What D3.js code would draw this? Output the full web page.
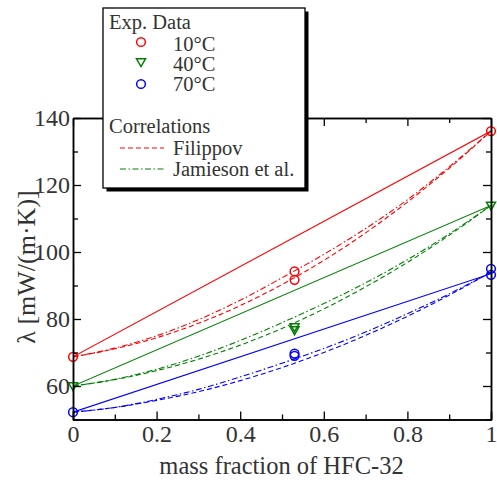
<!DOCTYPE html>
<html>
<head>
<meta charset="utf-8">
<script src="https://cdn.jsdelivr.net/npm/d3@7"></script>
<style>
  body { margin: 0; background: #fff; }
  svg { display: block; }
  svg text { font-family: "Liberation Serif", "DejaVu Serif", "Times New Roman", Times, serif !important; fill: #333; }
</style>
</head>
<body>
<svg id="chart" width="497" height="481"></svg>
<script>
// ---------- data ----------
const massFraction = [0, 0.1, 0.2, 0.3, 0.4, 0.5, 0.6, 0.7, 0.8, 0.9, 1];

// experimental points [mass fraction, lambda]
const exp10 = [[0, 68.7], [0.53, 94.2], [0.53, 91.7], [1, 136.1]];
const exp40 = [[0, 60.0], [0.53, 77.6], [0.53, 76.7], [1, 113.9]];
const exp70 = [[0, 52.2], [0.53, 69.7], [0.53, 69.0], [1, 95.0], [1, 93.2]];

// linear mixing (solid)
const linX = [0, 1];
const lin10 = [68.7, 136.1];
const lin40 = [60.0, 113.9];
const lin70 = [52.2, 93.5];

// Filippov correlation (dashed)
const fil10 = [68.7, 71.1, 74.4, 78.7, 84.0, 90.3, 97.5, 105.7, 114.9, 125.0, 136.1];
const fil40 = [60.0, 61.9, 64.6, 68.0, 72.2, 77.2, 83.0, 89.6, 96.9, 105.0, 113.9];
const fil70 = [52.2, 53.6, 55.7, 58.3, 61.6, 65.5, 70.0, 75.1, 80.8, 87.1, 94.0];

// Jamieson et al. correlation (dash-dot)
const jam10 = [68.7, 71.3, 75.0, 79.8, 85.6, 92.3, 99.3, 107.0, 115.6, 125.4, 136.1];
const jam40 = [60.0, 62.0, 65.0, 68.9, 73.6, 78.9, 84.6, 90.8, 97.7, 105.4, 113.9];
const jam70 = [52.2, 53.6, 56.0, 59.0, 62.7, 66.8, 71.2, 76.1, 81.6, 87.5, 94.0];

const xTicks = [0, 0.2, 0.4, 0.6, 0.8, 1];
const xMinor = [0.1, 0.3, 0.5, 0.7, 0.9];
const yTicks = [60, 80, 100, 120, 140];
const yMinor = [50, 70, 90, 110, 130];

const seriesNames = ["10°C", "40°C", "70°C"];
const colors = ["#ff0000", "#008000", "#0000ff"];

// ---------- layout ----------
const FONT = '"Liberation Serif", "DejaVu Serif", "Times New Roman", Times, serif';
const svg = d3.select("#chart");
const L = 73, R = 491, T = 118, B = 419.5;
const x = d3.scaleLinear().domain([0, 1]).range([L, R]);
const y = d3.scaleLinear().domain([50, 140]).range([B, T]);

const plot = svg.append("g");
svg.append("clipPath").attr("id", "clip")
  .append("rect").attr("x", L).attr("y", T).attr("width", R - L).attr("height", B - T);

const line = d3.line().x(d => x(d[0])).y(d => y(d[1]));
const zip = (xs, ys) => xs.map((v, i) => [v, ys[i]]);

const solid = [lin10, lin40, lin70];
const fil = [fil10, fil40, fil70];
const jam = [jam10, jam40, jam70];
const exps = [exp10, exp40, exp70];

const DASH = "5,3";
const DASHDOT = "6,2.5,1.5,2.5";

const curves = plot.append("g").attr("clip-path", "url(#clip)");
solid.forEach((s, i) => {
  curves.append("path").attr("d", line(zip(linX, s)))
    .attr("fill", "none").attr("stroke", colors[i]).attr("stroke-width", 1.1);
});
fil.forEach((s, i) => {
  curves.append("path").attr("d", line.curve(d3.curveMonotoneX)(zip(massFraction, s)))
    .attr("fill", "none").attr("stroke", colors[i]).attr("stroke-width", 1.1)
    .attr("stroke-dasharray", DASH);
});
jam.forEach((s, i) => {
  curves.append("path").attr("d", line.curve(d3.curveMonotoneX)(zip(massFraction, s)))
    .attr("fill", "none").attr("stroke", colors[i]).attr("stroke-width", 1.1)
    .attr("stroke-dasharray", DASHDOT);
});

// markers
const circleSym = d3.symbol().type(d3.symbolCircle).size(60);
const triPath = "M-4.5,-3.2L4.5,-3.2L0,4.6Z";
function marker(g, i, cx, cy) {
  if (i === 1) {
    g.append("path").attr("d", triPath).attr("transform", `translate(${cx},${cy})`)
      .attr("fill", "none").attr("stroke", colors[i]).attr("stroke-width", 1.5);
  } else {
    g.append("path").attr("d", circleSym()).attr("transform", `translate(${cx},${cy})`)
      .attr("fill", "none").attr("stroke", colors[i]).attr("stroke-width", 1.5);
  }
}
const mk = plot.append("g");
exps.forEach((pts, i) => pts.forEach(p => marker(mk, i, x(p[0]), y(p[1]))));

// ---------- axes ----------
const axFont = 24;
function styleAxis(g) {
  g.attr("font-family", FONT);
  g.selectAll(".domain").attr("stroke", "#000").attr("stroke-width", 1.5);
  g.selectAll(".tick line").attr("stroke", "#000").attr("stroke-width", 1.3);
  g.selectAll("text").attr("font-size", axFont).style("font-family", FONT).attr("fill", "#333");
}
const fmtX = d => d === 0 || d === 1 ? String(d) : d3.format(".1f")(d);

svg.append("g").attr("transform", `translate(0,${B})`)
  .call(d3.axisBottom(x).tickValues(xTicks).tickFormat(fmtX).tickSize(-8).tickPadding(5.5))
  .call(styleAxis);
svg.append("g").attr("transform", `translate(0,${B})`)
  .call(d3.axisBottom(x).tickValues(xMinor).tickFormat("").tickSize(-5).tickSizeOuter(0))
  .call(styleAxis);
svg.append("g").attr("transform", `translate(0,${T})`)
  .call(d3.axisTop(x).tickValues(xTicks).tickFormat("").tickSize(-8).tickSizeOuter(0))
  .call(styleAxis);
svg.append("g").attr("transform", `translate(0,${T})`)
  .call(d3.axisTop(x).tickValues(xMinor).tickFormat("").tickSize(-5).tickSizeOuter(0))
  .call(styleAxis);
svg.append("g").attr("transform", `translate(${L},0)`)
  .call(d3.axisLeft(y).tickValues(yTicks).tickSize(-8).tickPadding(3).tickSizeOuter(0))
  .call(styleAxis);
svg.append("g").attr("transform", `translate(${L},0)`)
  .call(d3.axisLeft(y).tickValues(yMinor).tickFormat("").tickSize(-5).tickSizeOuter(0))
  .call(styleAxis);
svg.append("g").attr("transform", `translate(${R},0)`)
  .call(d3.axisRight(y).tickValues(yTicks).tickFormat("").tickSize(-8).tickSizeOuter(0))
  .call(styleAxis);
svg.append("g").attr("transform", `translate(${R},0)`)
  .call(d3.axisRight(y).tickValues(yMinor).tickFormat("").tickSize(-5).tickSizeOuter(0))
  .call(styleAxis);

// axis titles
svg.append("text").attr("x", 281.5).attr("y", 474)
  .attr("text-anchor", "middle").attr("font-size", 24.5).style("font-family", FONT)
  .text("mass fraction of HFC-32");
svg.append("text").attr("transform", `translate(35,267) rotate(-90)`)
  .attr("text-anchor", "middle").attr("font-size", 26).style("font-family", FONT)
  .text("λ [mW/(m·K)]");

// ---------- legend ----------
const lg = svg.append("g").attr("font-family", FONT);
const bx = 103, by = 8, bw = 202, bh = 180;
lg.append("rect").attr("x", bx + 3.5).attr("y", by + 3.5).attr("width", bw).attr("height", bh).attr("fill", "#000");
lg.append("rect").attr("x", bx).attr("y", by).attr("width", bw).attr("height", bh)
  .attr("fill", "#fff").attr("stroke", "#000").attr("stroke-width", 1.3);

const lf = 20.5;
lg.append("text").attr("x", 109).attr("y", 29).attr("font-size", lf).style("font-family", FONT).text("Exp. Data");
const legY = [42, 63, 84];
const legTextY = [51, 71, 91];
seriesNames.forEach((n, i) => {
  marker(lg, i, 141, legY[i] - (i === 1 ? 1 : 0));
  lg.append("text").attr("x", 173).attr("y", legTextY[i]).attr("font-size", lf).style("font-family", FONT).text(n);
});
lg.append("text").attr("x", 109).attr("y", 133).attr("font-size", lf).style("font-family", FONT).text("Correlations");
lg.append("line").attr("x1", 120).attr("x2", 164).attr("y1", 148).attr("y2", 148)
  .attr("stroke", colors[0]).attr("stroke-width", 1.2).attr("stroke-dasharray", DASH);
lg.append("text").attr("x", 173).attr("y", 155).attr("font-size", lf).style("font-family", FONT).text("Filippov");
lg.append("line").attr("x1", 120).attr("x2", 164).attr("y1", 169).attr("y2", 169)
  .attr("stroke", colors[1]).attr("stroke-width", 1.2).attr("stroke-dasharray", DASHDOT);
lg.append("text").attr("x", 173).attr("y", 176).attr("font-size", lf).style("font-family", FONT).text("Jamieson et al.");
</script>
</body>
</html>
